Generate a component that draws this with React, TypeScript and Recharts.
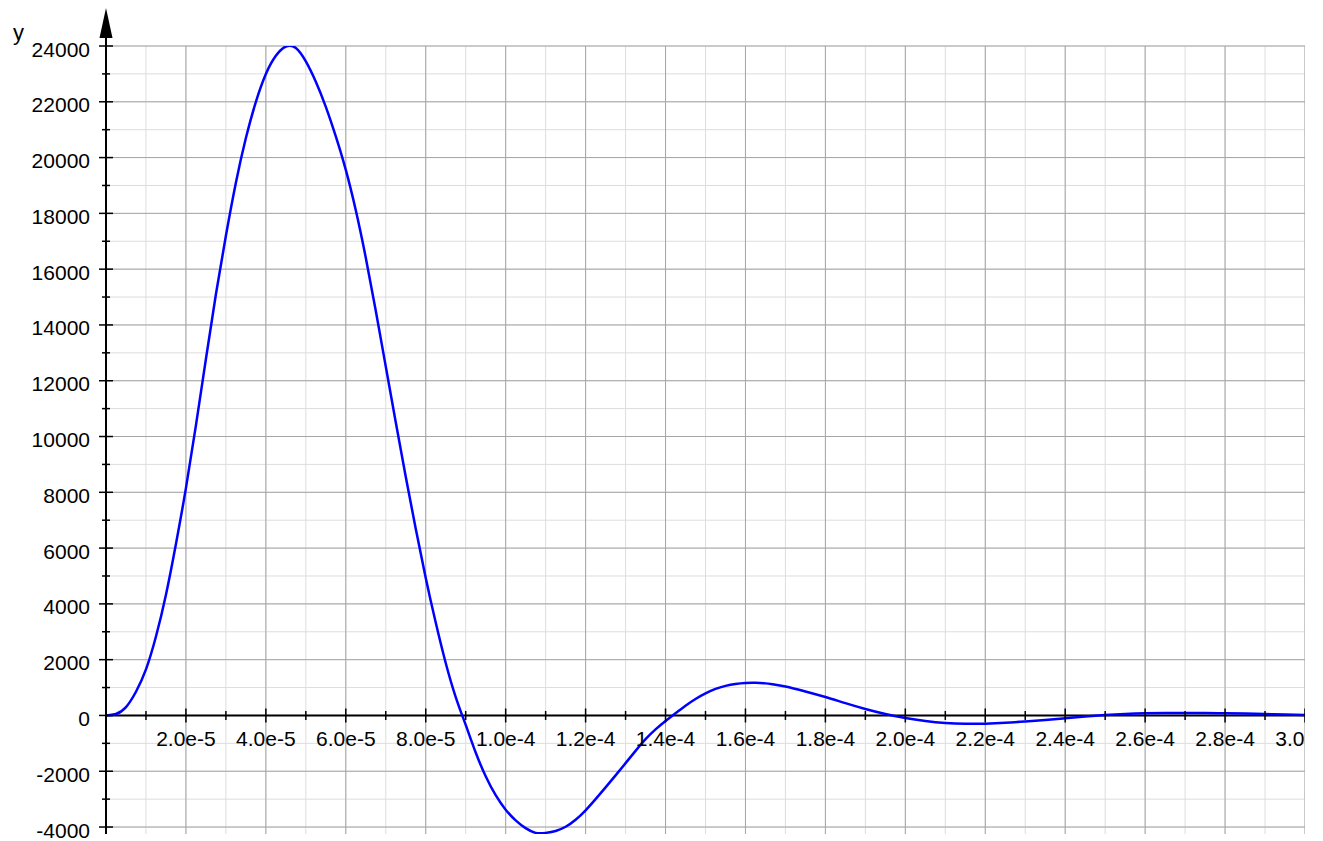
import { CartesianGrid, Line, LineChart, ReferenceLine, XAxis, YAxis } from "recharts";

// time in seconds
const times = [
  0, 2.5e-6, 5e-6, 7.5e-6, 1e-5, 1.25e-5, 1.5e-5, 1.75e-5, 2e-5, 2.25e-5,
  2.5e-5, 2.75e-5, 3e-5, 3.25e-5, 3.5e-5, 3.75e-5, 4e-5, 4.25e-5, 4.5e-5, 4.75e-5,
  5e-5, 5.25e-5, 5.5e-5, 5.75e-5, 6e-5, 6.25e-5, 6.5e-5, 6.75e-5, 7e-5, 7.25e-5,
  7.5e-5, 7.75e-5, 8e-5, 8.25e-5, 8.5e-5, 8.75e-5, 9e-5, 9.25e-5, 9.5e-5, 9.75e-5,
  1e-4, 1.025e-4, 1.05e-4, 1.075e-4, 1.1e-4, 1.125e-4, 1.15e-4, 1.175e-4, 1.2e-4, 1.225e-4,
  1.25e-4, 1.275e-4, 1.3e-4, 1.325e-4, 1.35e-4, 1.375e-4, 1.4e-4, 1.425e-4, 1.45e-4, 1.475e-4,
  1.5e-4, 1.525e-4, 1.55e-4, 1.575e-4, 1.6e-4, 1.625e-4, 1.65e-4, 1.675e-4, 1.7e-4, 1.75e-4,
  1.8e-4, 1.85e-4, 1.9e-4, 1.95e-4, 2e-4, 2.05e-4, 2.1e-4, 2.15e-4, 2.2e-4, 2.25e-4,
  2.3e-4, 2.35e-4, 2.4e-4, 2.45e-4, 2.5e-4, 2.55e-4, 2.6e-4, 2.65e-4, 2.7e-4, 2.75e-4,
  2.8e-4, 2.85e-4, 2.9e-4, 2.95e-4, 3e-4,
];

const values = [
  0, 50, 300, 850, 1650, 2830, 4330, 6150, 8150, 10400,
  12780, 15100, 17200, 19100, 20700, 22000, 23000, 23650, 23980, 23930,
  23450, 22720, 21820, 20760, 19560, 18110, 16410, 14510, 12510, 10510,
  8560, 6690, 4930, 3330, 1880, 660, -340, -1330, -2180, -2860,
  -3380, -3760, -4040, -4210, -4210, -4140, -3990, -3740, -3400, -3000,
  -2580, -2150, -1710, -1270, -850, -500, -200, 80, 350, 590,
  790, 950, 1060, 1130, 1165, 1170, 1150, 1100, 1040, 860,
  660, 440, 230, 50, -95, -200, -270, -300, -295, -265,
  -215, -160, -100, -40, 15, 55, 80, 90, 92, 88,
  80, 66, 48, 30, 14,
];

const xTicks = [
  0, 1e-5, 2e-5, 3e-5, 4e-5, 5e-5, 6e-5, 7e-5, 8e-5, 9e-5,
  1e-4, 1.1e-4, 1.2e-4, 1.3e-4, 1.4e-4, 1.5e-4, 1.6e-4, 1.7e-4, 1.8e-4, 1.9e-4,
  2e-4, 2.1e-4, 2.2e-4, 2.3e-4, 2.4e-4, 2.5e-4, 2.6e-4, 2.7e-4, 2.8e-4, 2.9e-4, 3e-4,
];
const xMajor = xTicks.filter((_, i) => i % 2 === 0);

const yTicks = [
  -4000, -3000, -2000, -1000, 0, 1000, 2000, 3000, 4000, 5000, 6000, 7000, 8000,
  9000, 10000, 11000, 12000, 13000, 14000, 15000, 16000, 17000, 18000, 19000,
  20000, 21000, 22000, 23000, 24000,
];
const yMajor = yTicks.filter((v) => v % 2000 === 0);

const Y_MIN = -4250;
const Y_MAX = 24000;

const data = times.map((t, i) => ({ t, v: values[i] }));

const W = 1297;
const H = 833;
const X_AXIS_H = 7;
const M = { top: 38, right: 0, bottom: 0, left: 0 };
const PLOT_H = H - M.top - M.bottom - X_AXIS_H;
const ZERO_OFF = (PLOT_H * (0 - Y_MIN)) / (Y_MAX - Y_MIN);

const FONT = "'Liberation Sans', Arial, Helvetica, sans-serif";
const FS = 21;

function XTick(props: any) {
  const { x, y, payload, index } = props;
  const zy = y - ZERO_OFF;
  if (index === 0) return <g />;
  const major = index % 2 === 0;
  const h = major ? 7 : 4.5;
  return (
    <g>
      <line x1={x} x2={x} y1={zy - h} y2={zy + h} stroke="#000" strokeWidth={1.5} />
      {major && (
        <text x={x} y={zy + 31} textAnchor="middle" fontSize={FS} fontFamily={FONT} fill="#000">
          {Number(payload.value).toExponential(1)}
        </text>
      )}
    </g>
  );
}

function YTick(props: any) {
  const { x, y, payload } = props;
  const major = payload.value % 2000 === 0;
  const h = major ? 7 : 4;
  return (
    <g>
      <line x1={x - h} x2={x + h} y1={y} y2={y} stroke="#000" strokeWidth={1.5} />
      {major && (
        <text x={x - 16} y={y + 10.5} textAnchor="end" fontSize={FS} fontFamily={FONT} fill="#000">
          {payload.value}
        </text>
      )}
    </g>
  );
}

function AxisArrow(props: any) {
  const vb = props.viewBox || { x: 0, y: M.top, width: 98, height: PLOT_H };
  const ax = vb.x + vb.width;
  const top = vb.y;
  return (
    <g>
      <line x1={ax} x2={ax} y1={top - 10} y2={top} stroke="#000" strokeWidth={2} />
      <polygon points={`${ax},${top - 38} ${ax - 6.5},${top - 8} ${ax + 6.5},${top - 8}`} fill="#000" />
      <text x={5} y={top - 6} fontSize={FS + 1} fontFamily={FONT} fill="#000">
        y
      </text>
    </g>
  );
}

export default function App() {
  return (
    <LineChart width={W} height={H} data={data} margin={M}>
      <CartesianGrid
        stroke="#dddddd"
        strokeWidth={1}
        horizontalValues={yTicks}
        verticalValues={xTicks}
      />
      <CartesianGrid
        stroke="#a6a6a6"
        strokeWidth={1}
        horizontalValues={yMajor}
        verticalValues={xMajor}
      />
      <XAxis
        dataKey="t"
        type="number"
        domain={[0, 3e-4]}
        ticks={xTicks}
        interval={0}
        allowDataOverflow
        height={X_AXIS_H}
        axisLine={false}
        tickLine={false}
        tickSize={0}
        tickMargin={0}
        tick={<XTick />}
      />
      <YAxis
        type="number"
        domain={[Y_MIN, Y_MAX]}
        ticks={yTicks}
        interval={0}
        allowDataOverflow
        width={98}
        axisLine={{ stroke: "#000", strokeWidth: 2 }}
        tickLine={false}
        tickSize={0}
        tickMargin={0}
        tick={<YTick />}
        label={{ content: <AxisArrow /> }}
      />
      <ReferenceLine y={0} stroke="#000" strokeWidth={2} />
      <Line
        type="natural"
        dataKey="v"
        stroke="#0000ff"
        strokeWidth={2.5}
        dot={false}
        isAnimationActive={false}
      />
    </LineChart>
  );
}
